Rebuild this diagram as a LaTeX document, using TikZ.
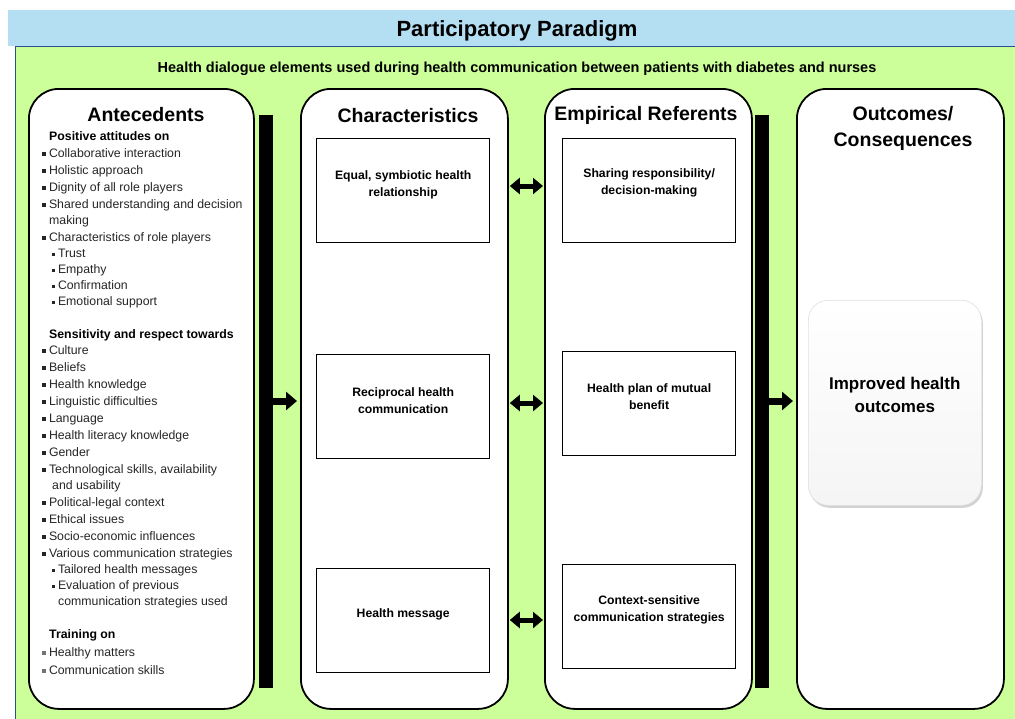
\documentclass[tikz,border=0pt]{standalone}
\usepackage{fontspec}
\setmainfont{Liberation Sans}
\usetikzlibrary{arrows.meta,shadows}
\definecolor{bandblue}{HTML}{B4DEF2}
\definecolor{limegreen}{HTML}{CCFF99}
\definecolor{edgeblue}{HTML}{2A4F8F}
\newcommand{\bul}{\rule[2pt]{3.3pt}{3.3pt}\hspace{3.5pt}}
\begin{document}
\begin{tikzpicture}[x=1pt,y=-1pt,
  column/.style={draw=black,line width=1.8pt,fill=white,rounded corners=30pt,anchor=north west,inner sep=0pt,minimum width=#1},
  column/.default=207pt,
  ibox/.style={draw=black,line width=1.3pt,fill=white,anchor=north west,inner sep=0pt,minimum width=173pt,minimum height=104pt},
  boxtext/.style={align=center,font=\bfseries\fontsize{12.2}{16.5}\selectfont},
  ctitle/.style={align=center,font=\bfseries\fontsize{19.5}{26}\selectfont},
  bar/.style={fill=black,anchor=north west,inner sep=0pt,minimum width=14pt,minimum height=573pt},
  fwd/.style={line width=7pt,-{Triangle[length=11pt,width=18pt]}},
  both/.style={line width=5pt,{Triangle[length=10pt,width=16pt]}-{Triangle[length=10pt,width=16pt]}},
  lhead/.style={anchor=base west,inner sep=0pt,font=\bfseries\fontsize{12.3}{14}\selectfont},
  litem/.style={anchor=base west,inner sep=0pt,font=\fontsize{12.3}{14}\selectfont,text=black!85}]
\useasboundingbox (0,0) rectangle (1015,718);
\fill[white] (0,0) rectangle (1015,718);
% bands
\fill[bandblue] (8,10) rectangle (1015,46);
\filldraw[fill=limegreen,draw=edgeblue,line width=0.9pt] (1016,46) -- (15,46) -- (15,719) -- (1016,719) -- cycle;
\node[font=\bfseries\fontsize{22}{24}\selectfont] (title) at (517,30.5) {Participatory Paradigm};
\node[font=\bfseries\fontsize{14.5}{16}\selectfont] (sub) at (517,69) {Health dialogue elements used during health communication between patients with diabetes and nurses};
% columns
\node[column=225pt,minimum height=620pt] (ante) at (28,88) {};
\node[column,minimum height=620pt] (char) at (300,88) {};
\node[column,minimum height=620pt] (emp) at (544,88) {};
\node[column,minimum height=620pt] (out) at (796,88) {};
% titles
\node[ctitle] (anteT) at (146,114.5) {Antecedents};
\node[ctitle] (charT) at (408,115.5) {Characteristics};
\node[ctitle] (empT) at (646,115.5) {Empirical Referents};
\node[ctitle] (outT) at (903,128.5) {Outcomes/\\Consequences};
% bars
\node[bar] (bar1) at (259,115) {};
\node[bar] (bar2) at (755,115) {};
\coordinate (ay) at (0,401);
\draw[fwd,shorten >=3pt] (bar1.east |- ay) -- (char.west |- ay);
\draw[fwd,shorten >=3pt] (bar2.east |- ay) -- (out.west |- ay);
% characteristic boxes
\node[ibox] (c1) at (316,138) {};
\node[ibox] (c2) at (316,354) {};
\node[ibox] (c3) at (316,568) {};
\node[boxtext] (c1t) at ([yshift=6pt]c1.center) {Equal, symbiotic health\\relationship};
\node[boxtext] (c2t) at ([yshift=6pt]c2.center) {Reciprocal health\\communication};
\node[boxtext] (c3t) at ([yshift=6pt]c3.center) {Health message};
% empirical boxes
\node[ibox] (e1) at (562,138) {};
\node[ibox] (e2) at (562,351) {};
\node[ibox] (e3) at (562,564) {};
\node[boxtext] (e1t) at ([yshift=8pt]e1.center) {Sharing responsibility/\\decision-making};
\node[boxtext] (e2t) at ([yshift=7pt]e2.center) {Health plan of mutual\\benefit};
\node[boxtext] (e3t) at ([yshift=7pt]e3.center) {Context-sensitive\\communication strategies};
% double arrows
\coordinate (d1) at (0,186);
\coordinate (d2) at (0,403);
\coordinate (d3) at (0,620);
\draw[both,shorten <=1pt,shorten >=1pt] (char.east |- d1) -- (emp.west |- d1);
\draw[both,shorten <=1pt,shorten >=1pt] (char.east |- d2) -- (emp.west |- d2);
\draw[both,shorten <=1pt,shorten >=1pt] (char.east |- d3) -- (emp.west |- d3);
% outcome box
\node[anchor=north west,inner sep=0pt,minimum width=173pt,minimum height=205pt,rounded corners=20pt,
  draw=black!12,line width=0.6pt,top color=white,bottom color=black!4,
  drop shadow={opacity=0.35,shadow xshift=1.5pt,shadow yshift=-2.5pt}] (o1) at (808,300) {};
\node[align=center,font=\bfseries\fontsize{17}{23}\selectfont] (o1t) at ([yshift=8pt]o1.center) {Improved health\\outcomes};
% antecedent list
\foreach \yy/\tt [count=\i] in {136/Positive attitudes on, 334/Sensitivity and respect towards, 634/Training on}
  \node[lhead] (h\i) at (49,\yy+4.5) {\tt};
\foreach \yy/\tt [count=\i] in {153/Collaborative interaction, 170/Holistic approach, 187/Dignity of all role players,
  204/Shared understanding and decision, 237/Characteristics of role players,
  350/Culture, 367/Beliefs, 384/Health knowledge, 401/Linguistic difficulties, 418/Language,
  435/Health literacy knowledge, 452/Gender, 469/{Technological skills, availability},
  502/Political-legal context, 519/Ethical issues, 536/Socio-economic influences,
  553/Various communication strategies}
  \node[litem] (b\i) at (42,\yy+4.5) {\bul\tt};
\foreach \yy/\tt [count=\i] in {652/Healthy matters, 670/Communication skills}
  \node[litem] (t\i) at (42,\yy+4.5) {{\color{black!55}\rule[2pt]{3.3pt}{3.3pt}}\hspace{3.5pt}\tt};
\foreach \yy/\tt [count=\i] in {253/Trust, 269/Empathy, 285/Confirmation, 301/Emotional support,
  569/Tailored health messages, 585/Evaluation of previous}
  \node[litem] (s\i) at (52,\yy+4.5) {{\rule[2pt]{2.8pt}{2.8pt}}\hspace{3pt}\tt};
\node[litem] (k1) at (49,224.5) {making};
\node[litem] (k2) at (52,489.5) {and usability};
\node[litem] (k3) at (58,605.5) {communication strategies used};
\end{tikzpicture}
\end{document}
